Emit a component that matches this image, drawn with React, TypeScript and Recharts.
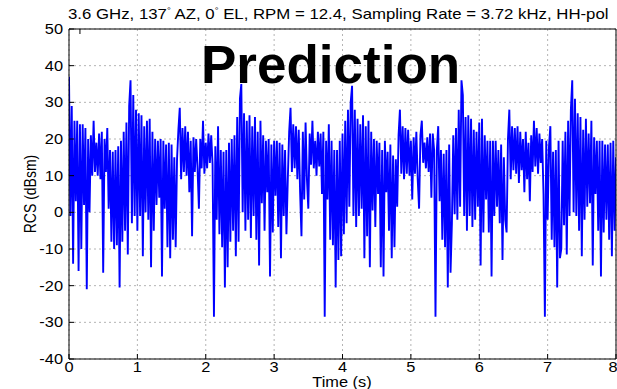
import { LineChart, Line, XAxis, YAxis, CartesianGrid } from 'recharts'

// RCS samples, one row = 0.2 s (step 0.02 s)
const sec0 = [
  37, -1, 29, -14, 25, 3, 25, -16, 24, -10,
  24, 2, 23, -21, 20, 0, 21, 10, 25, 11,
  19, 10, 21.5, 9, 22, -16.5, 20, 11, 23, 1,
  17, -8, 16.5, -10, 17, -9, 18, -20.5, 19.5, -8,
  22, -5, 24.5, -11.5, 29, 36, -3, 32, -1, 28,
]
const sec1 = [
  -5, 27, -1, 26.5, -12, 23.5, 0, 25, -2, 25.5,
  -15, 22, -5, 20, 2, 19.5, 4, 20, -17.5, 19.5,
  1, 18.5, -9.5, 19, -12.5, 18.5, -7.5, 15, -9.5, 14.5,
  22.5, 28.5, 9, 23, 11, 23.5, 10, 22, 5.5, 19.5,
  -6.5, 20.5, 11, 20, 12, 1, 20, 12, 25, 10.5,
]
const sec2 = [
  19, 12, 21.5, 13.5, 21, 13, -28.5, 18, -2, 23.5,
  -6, 17, -9.5, 16.5, -20.5, 17, -15, 19, -8, 20,
  -5, 21, -12, 26, -8, 31, 35, 0, 27, -5,
  25, -2, 26.5, -7, 23.5, -1, 26, -7.5, 22, -14.5,
  25, 2.5, 21, -5, 19.5, 5.5, 20, -17.5, 18.5, -5.5,
]
const sec3 = [
  19.5, 4.5, 19.5, -4, 19, -12.5, 18.5, -1, 17, -6,
  9, 22, 28.5, 11, 24, 12, 23.5, 9, 22.5, 5.5,
  -6.5, 22, 3.5, 24.5, 9, 1, 21.5, 13, 25, 12,
  19.5, 10, 22, 12.5, 21.5, 5, 22, -28.5, 19.5, 3.5,
  24, -7.5, 19.5, -9, 17, -20.5, 17, -13, 19.5, -12,
]
const sec4 = [
  21.5, -6, 25, -3, 28, 1.5, 30, 34.5, -1, 28,
  -4, 25.5, -1, 24, 1, 26.5, -12.5, 23.5, -6.5, 25,
  -15, 22, 0.5, 20, -4, 19.5, 5, 19, -15, 17,
  -17.5, 19.5, 5.5, 16.5, -5, 18.5, -12.5, 15.5, -9.5, 14.5,
  1.5, 21, 28, 10.5, 23.5, 9, 23, 10.5, 22.5, 10,
]
const sec5 = [
  19.5, 3.5, 20.5, 10.5, 22, 9, 1, 21, 25, 13.5,
  19, 12, 20.5, 11, 21.5, 4, 21.5, 17, -28.5, 17,
  23.5, 3, 17, -7.5, 16, -9.5, 17, -20.5, 18.5, -16.5,
  -3, 21, -0.5, 23, -2, 28, 1.5, 36, 32, -1,
  26, -5, 26.5, -1, 25.5, -4, 22.5, -2, 22, 1.5,
]
const sec6 = [
  24.5, -14.5, 25.5, -5.5, 21, 3.5, 19.5, -5.5, 19.5, -17.5,
  19.5, -1, 19.5, 1.5, 17, -3, 18.5, -13, 15, -2,
  -5.5, 20, 28, 9, 23.5, 11.5, 23, 10.5, 23.5, 8,
  22, 11.5, 20, 5.5, 22, 9, 19, 3, 21, 11,
  25, 12.5, 23, 10.5, 21.5, 13.5, 20, 5, -28.5, 19.5,
]
const sec7 = [
  -2, 18, 23.5, -7.5, 16.5, -9.5, 17, -20.5, 19.5, -12.5,
  -10, 19.5, -3.5, 22, -11.5, 25, -1, 28, 36, 0,
  31, -1, 27, -5, 26, -12, 22.5, -2, 25.5, 1.5,
  21.5, 2.5, 25, -14.5, 20.5, 5, 19.5, -5, 19.5, -17.5,
  19.5, -5.5, 18.5, -2, 18.5, -7.5, 19, -12, 19.5, -5,
]
const lastSample = [15]

const STEP = 0.02
const rcs = [...sec0, ...sec1, ...sec2, ...sec3, ...sec4, ...sec5, ...sec6, ...sec7, ...lastSample]
const data = rcs.map((v, i) => ({ t: +(i * STEP).toFixed(2), rcs: v }))

const xTicks = [0, 1, 2, 3, 4, 5, 6, 7, 8]
const yTicks = [-40, -30, -20, -10, 0, 10, 20, 30, 40, 50]

const FONT = '"Liberation Sans", Arial, Helvetica, sans-serif'
const SX = 1.17 // the source figure is stretched sideways

const renderXTick = ({ x, y, payload }: any) => (
  <g transform={`translate(${x},${y + 10}) scale(${SX},1)`}>
    <text textAnchor="middle" fontSize={14} fontFamily={FONT} fill="#000">{payload.value}</text>
  </g>
)

const renderYTick = ({ x, y, payload }: any) => (
  <g transform={`translate(${x},${y + 5}) scale(${SX},1)`}>
    <text textAnchor="end" fontSize={14} fontFamily={FONT} fill="#000">{payload.value}</text>
  </g>
)

const emptyTick = () => <g />

export default function App() {
  return (
    <div style={{ position: 'absolute', left: 0, top: 0, width: 617, height: 389, background: '#fff', overflow: 'hidden' }}>
      <LineChart width={617} height={389} data={data} margin={{ top: 28, right: 0, bottom: 0, left: 0 }}>
        <CartesianGrid stroke="#b4b4b4" strokeDasharray="2 3" />
        <XAxis dataKey="t" type="number" domain={[0, 8]} ticks={xTicks} height={30}
          stroke="#000" tickSize={-5} tickMargin={8} tick={renderXTick} allowDataOverflow />
        <XAxis xAxisId="top" orientation="top" type="number" domain={[0, 8]} ticks={xTicks} height={1}
          stroke="#000" tickSize={-5} tick={emptyTick} />
        <YAxis type="number" domain={[-40, 50]} ticks={yTicks} width={69}
          stroke="#000" tickSize={-5} tickMargin={11} tick={renderYTick} allowDataOverflow />
        <YAxis yAxisId="right" orientation="right" type="number" domain={[-40, 50]} ticks={yTicks} width={1}
          stroke="#000" tickSize={-5} tick={emptyTick} />
        <Line type="linear" dataKey="rcs" stroke="#0000ff" strokeWidth={1.9} dot={false} isAnimationActive={false} />
      </LineChart>
      <svg width={617} height={389} style={{ position: 'absolute', left: 0, top: 0, pointerEvents: 'none' }}>
        <g transform={`translate(68,19) scale(1.2,1)`}>
          <text fontSize={14} fontFamily={FONT} fill="#000">
            3.6 GHz, 137
            <tspan dy={-6} fontSize={8}>°</tspan>
            <tspan dy={6}> AZ, 0</tspan>
            <tspan dy={-6} fontSize={8}>°</tspan>
            <tspan dy={6}> EL, RPM = 12.4, Sampling Rate = 3.72 kHz, HH-pol</tspan>
          </text>
        </g>
        <text x={201} y={83} fontSize={53} fontWeight="bold" fontFamily={FONT} fill="#000">Prediction</text>
        <g transform={`translate(342,387) scale(${SX},1)`}>
          <text textAnchor="middle" fontSize={14} fontFamily={FONT} fill="#000">Time (s)</text>
        </g>
        <g transform={`translate(36,194) scale(${SX},1) rotate(-90)`}>
          <text textAnchor="middle" fontSize={14} fontFamily={FONT} fill="#000">RCS (dBsm)</text>
        </g>
      </svg>
    </div>
  )
}
